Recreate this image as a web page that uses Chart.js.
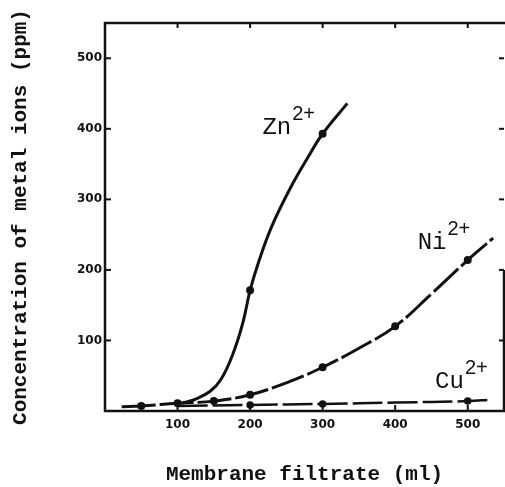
<!DOCTYPE html>
<html>
<head>
<meta charset="utf-8">
<script src="https://cdn.jsdelivr.net/npm/chart.js@4.4.0/dist/chart.umd.min.js"></script>
<style>
  html, body { margin: 0; padding: 0; background: #fff; }
  #wrap { width: 505px; height: 487px; }
</style>
</head>
<body>
<div id="wrap"><canvas id="chart"></canvas></div>
<script>
// Axis ticks
const xTicks = [100, 200, 300, 400, 500];
const yTicks = [100, 200, 300, 400, 500];

// Curves: [filtrate (ml), concentration (ppm)]
const znPoints = [[107, 11], [125, 17], [145, 28], [160, 45], [176, 80], [190, 125], [200, 171], [212, 212], [230, 262], [255, 315], [280, 360], [300, 393], [334, 436]];
const niPoints = [[23, 6], [50, 7], [100, 11], [150, 14], [200, 23], [250, 40], [300, 62], [350, 89], [400, 120], [450, 166], [500, 214], [535, 245]];
const cuPoints = [[100, 7], [200, 8.5], [300, 10], [400, 12], [500, 14], [531, 16]];

// Measured points shown as dots
const znMarkers = [200, 300];
const niMarkers = [50, 100, 150, 200, 300, 400, 500];
const cuMarkers = [200, 300, 500];

// Ion labels anchored in data space
const ionNames = ['Zn', 'Ni', 'Cu'];
const ionLabelX = [217, 431, 455];
const ionLabelY = [393, 229, 32];

const toXY = pts => pts.map(p => ({ x: p[0], y: p[1] }));
const dotRadius = markers => ctx => markers.includes(ctx.raw.x) ? 2.5 : 0;

const frame = {
  id: 'frame',
  afterDatasetsDraw(chart) {
    const { ctx, chartArea: a, scales: { x, y } } = chart;
    const line = (x1, y1, x2, y2) => { ctx.beginPath(); ctx.moveTo(x1, y1); ctx.lineTo(x2, y2); ctx.stroke(); };
    ctx.save();
    ctx.strokeStyle = '#111';
    ctx.lineWidth = 2.5;
    ctx.beginPath();
    ctx.moveTo(a.right, y.getPixelForValue(200));
    ctx.lineTo(a.right, a.bottom);
    ctx.lineTo(a.left, a.bottom);
    ctx.lineTo(a.left, a.top);
    ctx.lineTo(a.right + 2, a.top);
    ctx.stroke();

    ctx.lineWidth = 2;
    xTicks.forEach(v => {
      const px = x.getPixelForValue(v);
      line(px, a.bottom, px, a.bottom - 6);
      line(px, a.top, px, a.top + 5);
    });
    yTicks.forEach(v => {
      const py = y.getPixelForValue(v);
      line(a.left, py, a.left + 6, py);
      line(a.right, py, a.right - 5, py);
    });

    // ion labels with superscript charge
    ctx.fillStyle = '#111';
    ctx.textBaseline = 'alphabetic';
    ionNames.forEach((name, i) => {
      const px = x.getPixelForValue(ionLabelX[i]);
      const py = y.getPixelForValue(ionLabelY[i]);
      ctx.font = '24px "Liberation Mono", monospace';
      ctx.fillText(name, px, py);
      const w = ctx.measureText(name).width;
      ctx.font = '20px "Liberation Sans", sans-serif';
      ctx.fillText('2+', px + w + 1, py - 14);
    });
    ctx.restore();
  }
};

const tickFont = { family: 'DejaVu Sans', weight: 'bold', size: 12 };
const titleFont = { family: 'Liberation Mono', weight: 'bold', size: 21 };

new Chart(document.getElementById('chart'), {
  type: 'line',
  data: {
    datasets: [
      {
        label: 'Zn2+',
        data: toXY(znPoints),
        borderColor: '#111',
        backgroundColor: '#111',
        borderWidth: 3,
        pointRadius: dotRadius(znMarkers),
        tension: 0.4
      },
      {
        label: 'Ni2+',
        data: toXY(niPoints),
        borderColor: '#111',
        backgroundColor: '#111',
        borderWidth: 3,
        borderDash: [34, 4],
        pointRadius: dotRadius(niMarkers),
        tension: 0.4
      },
      {
        label: 'Cu2+',
        data: toXY(cuPoints),
        borderColor: '#111',
        backgroundColor: '#111',
        borderWidth: 2.5,
        borderDash: [30, 5],
        pointRadius: dotRadius(cuMarkers),
        tension: 0.4
      }
    ]
  },
  options: {
    responsive: true,
    maintainAspectRatio: false,
    animation: false,
    devicePixelRatio: 1,
    layout: { padding: { top: 23, right: 1, left: 0, bottom: 0 } },
    plugins: { legend: { display: false }, tooltip: { enabled: false } },
    scales: {
      x: {
        type: 'linear',
        min: 0,
        max: 550,
        afterFit: s => { s.height = 76; },
        grid: { display: false, drawTicks: false },
        border: { display: false },
        ticks: {
          stepSize: 100,
          includeBounds: false,
          padding: 7,
          color: '#111',
          font: tickFont,
          maxRotation: 0,
          callback: v => (xTicks.includes(v) ? v : '')
        },
        title: {
          display: true,
          text: 'Membrane filtrate (ml)',
          color: '#111',
          font: titleFont,
          padding: { top: 0, bottom: 0 }
        }
      },
      y: {
        type: 'linear',
        min: 0,
        max: 550,
        afterFit: s => { s.width = 105; },
        grid: { display: false, drawTicks: false },
        border: { display: false },
        ticks: {
          stepSize: 100,
          includeBounds: false,
          padding: 3,
          color: '#111',
          font: tickFont,
          callback: v => (yTicks.includes(v) ? v : '')
        },
        title: {
          display: true,
          text: 'Concentration of metal ions (ppm)',
          color: '#111',
          font: titleFont,
          padding: { top: 8, bottom: 0 }
        }
      }
    }
  },
  plugins: [frame]
});
</script>
</body>
</html>
